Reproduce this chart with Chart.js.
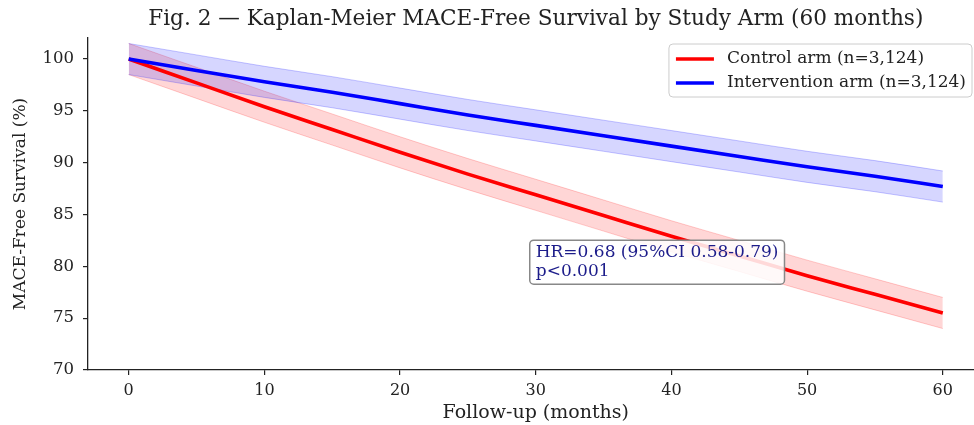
<!DOCTYPE html>
<html>
<head>
<meta charset="utf-8">
<script src="https://cdn.jsdelivr.net/npm/chart.js@4.4.1/dist/chart.umd.min.js"></script>
<style>
  body { margin: 0; background: #fff; }
  canvas { display: block; }
</style>
</head>
<body>
<canvas id="myChart" width="974" height="425"></canvas>
<script>
// values
const months = [0, 5, 10, 15, 20, 25, 30, 35, 40, 45, 50, 55, 60];
const controlSurv = [100, 97.7, 95.4, 93.2, 91.0, 88.9, 86.9, 84.9, 82.9, 81.0, 79.1, 77.3, 75.5];
const controlLow  = [98.5, 96.2, 93.9, 91.7, 89.5, 87.4, 85.4, 83.4, 81.4, 79.5, 77.6, 75.8, 74.0];
const controlHigh = [101.5, 99.2, 96.9, 94.7, 92.5, 90.4, 88.4, 86.4, 84.4, 82.5, 80.6, 78.8, 77.0];
const interSurv = [100, 98.9, 97.8, 96.8, 95.7, 94.6, 93.6, 92.6, 91.6, 90.6, 89.6, 88.7, 87.7];
const interLow  = [98.5, 97.4, 96.3, 95.3, 94.2, 93.1, 92.1, 91.1, 90.1, 89.1, 88.1, 87.2, 86.2];
const interHigh = [101.5, 100.4, 99.3, 98.3, 97.2, 96.1, 95.1, 94.1, 93.1, 92.1, 91.1, 90.2, 89.2];
const xTicks = [0, 10, 20, 30, 40, 50, 60];
const yTicks = [70, 75, 80, 85, 90, 95, 100];
const seriesLabels = ['Control arm (n=3,124)', 'Intervention arm (n=3,124)'];
const titleText = 'Fig. 2 \u2014 Kaplan-Meier MACE-Free Survival by Study Arm (60 months)';
const noteLines = ['HR=0.68 (95%CI 0.58-0.79)', 'p<0.001'];

const FONT = "'DejaVu Serif', serif";
const INK = '#222';

function pts(ys) {
	return months.map((m, i) => ({x: m, y: ys[i]}));
}

function line(label, ys, color, order) {
	return {label: label, data: pts(ys), borderColor: color, borderWidth: 3.6,
		pointRadius: 0, fill: false, order: order, cubicInterpolationMode: 'monotone'};
}

function band(ys, edge, fill, order, target) {
	return {data: pts(ys), borderColor: edge, borderWidth: 1, pointRadius: 0,
		backgroundColor: fill, fill: target === undefined ? false : {target: target},
		order: order, cubicInterpolationMode: 'monotone'};
}

function roundRect(ctx, x, y, w, h, r) {
	ctx.beginPath();
	ctx.moveTo(x + r, y);
	ctx.arcTo(x + w, y, x + w, y + h, r);
	ctx.arcTo(x + w, y + h, x, y + h, r);
	ctx.arcTo(x, y + h, x, y, r);
	ctx.arcTo(x, y, x + w, y, r);
	ctx.closePath();
}

const decorations = {
	id: 'decorations',
	afterDraw(chart) {
		const ctx = chart.ctx;
		const xs = chart.scales.x, ys = chart.scales.y;
		const area = chart.chartArea;
		ctx.save();

		// title
		ctx.fillStyle = INK;
		ctx.font = '21.6px ' + FONT;
		ctx.textAlign = 'center';
		ctx.textBaseline = 'middle';
		const midX = xs.getPixelForValue(30);
		ctx.fillText(titleText, midX, 19);

		// x label
		ctx.font = '19px ' + FONT;
		ctx.fillText('Follow-up (months)', midX, 413);

		// legend
		ctx.font = '17px ' + FONT;
		ctx.textAlign = 'left';
		const colors = ['#ff0000', '#0000ff'];
		const tw = Math.max(...seriesLabels.map(s => ctx.measureText(s).width));
		const bw = 7 + 38 + 13 + tw + 6;
		const bx = 972 - bw, by = area.top + 6;
		roundRect(ctx, bx, by, bw, 53, 4);
		ctx.fillStyle = 'rgba(255,255,255,0.8)';
		ctx.fill();
		ctx.strokeStyle = '#cccccc';
		ctx.lineWidth = 1;
		ctx.stroke();
		seriesLabels.forEach((s, i) => {
			const cy = by + 15 + i * 24;
			ctx.strokeStyle = colors[i];
			ctx.lineWidth = 3.6;
			ctx.beginPath();
			ctx.moveTo(bx + 7, cy);
			ctx.lineTo(bx + 45, cy);
			ctx.stroke();
			ctx.fillStyle = INK;
			ctx.fillText(s, bx + 58, cy);
		});

		// annotation
		ctx.font = '17px ' + FONT;
		const nx = xs.getPixelForValue(30);
		const ny = ys.getPixelForValue(80.4);
		const nw = Math.max(...noteLines.map(s => ctx.measureText(s).width)) + 12;
		roundRect(ctx, nx - 6, ny - 22, nw, 44, 4);
		ctx.fillStyle = 'rgba(255,255,255,0.85)';
		ctx.fill();
		ctx.strokeStyle = '#888888';
		ctx.lineWidth = 1.5;
		ctx.stroke();
		ctx.fillStyle = '#1c1c8a';
		noteLines.forEach((s, i) => ctx.fillText(s, nx, ny - 10 + i * 19));

		ctx.restore();
	}
};

const ctx = document.getElementById('myChart').getContext('2d');
const myChart = new Chart(ctx, {
	type: 'line',
	data: {
		datasets: [
			line(seriesLabels[0], controlSurv, '#ff0000', 1),
			line(seriesLabels[1], interSurv, '#0000ff', 0),
			band(controlLow, 'rgba(255,0,0,0.2)', 'rgba(255,0,0,0.16)', 3),
			band(controlHigh, 'rgba(255,0,0,0.2)', 'rgba(255,0,0,0.16)', 3, 2),
			band(interLow, 'rgba(0,0,255,0.22)', 'rgba(0,0,255,0.16)', 2),
			band(interHigh, 'rgba(0,0,255,0.22)', 'rgba(0,0,255,0.16)', 2, 4)
		]
	},
	options: {
		responsive: false,
		animation: false,
		devicePixelRatio: 1,
		layout: {padding: {top: 38, left: 0, right: 0, bottom: 0}},
		plugins: {legend: {display: false}, tooltip: {enabled: false}, title: {display: false}},
		scales: {
			x: {
				type: 'linear',
				min: -3,
				max: 62.3,
				afterBuildTicks: (s) => { s.ticks = xTicks.map(v => ({value: v})); },
				afterFit: (s) => { s.height = 55; },
				grid: {drawOnChartArea: false, tickLength: 5, color: INK, lineWidth: 1.2},
				border: {color: INK, width: 1.3},
				ticks: {font: {family: FONT, size: 16}, color: INK, padding: 6, maxRotation: 0}
			},
			y: {
				min: 70,
				max: 102.03,
				afterBuildTicks: (s) => { s.ticks = yTicks.map(v => ({value: v})); },
				afterFit: (s) => { s.width = 88; },
				grid: {drawOnChartArea: false, tickLength: 5, color: INK, lineWidth: 1.2},
				border: {color: INK, width: 1.3},
				ticks: {font: {family: FONT, size: 16.5}, color: INK, padding: 9},
				title: {display: true, text: 'MACE-Free Survival (%)', color: INK,
					font: {family: FONT, size: 17}, padding: {top: 10, bottom: 0}}
			}
		}
	},
	plugins: [decorations]
});
</script>
</body>
</html>
